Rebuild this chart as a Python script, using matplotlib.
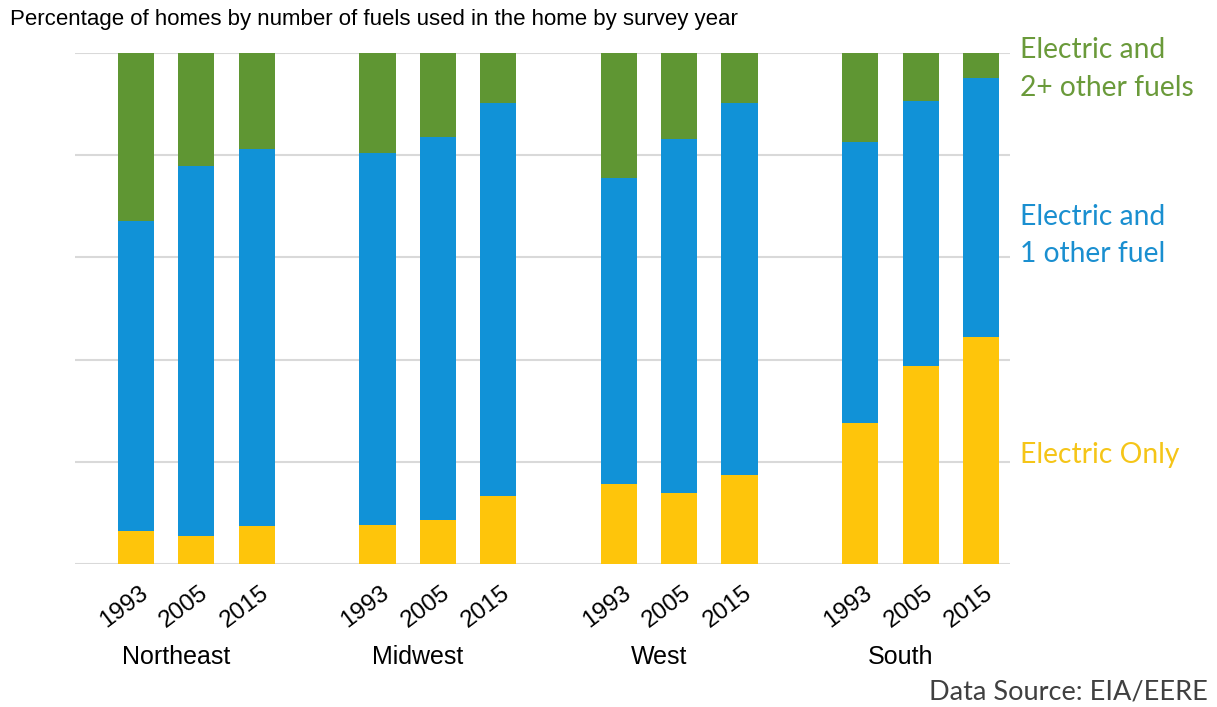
import matplotlib.pyplot as plt
from matplotlib import transforms

# Percent of homes
regions = ["Northeast", "Midwest", "West", "South"]
years = ["1993", "2005", "2015"]
electric_only = [6.5, 5.5, 7.4, 7.6, 8.6, 13.3, 15.7, 13.9, 17.4, 27.6, 38.7, 44.4]
electric_1_other = [60.6, 72.4, 73.8, 72.8, 75.0, 76.9, 59.8, 69.3, 72.8, 55.0, 51.9, 50.7]
electric_2_other = [32.9, 22.1, 18.8, 19.6, 16.4, 9.8, 24.5, 16.8, 9.8, 17.4, 9.4, 4.9]

YELLOW = "#fec50b"
BLUE = "#1192d7"
GREEN = "#5f9633"

fig = plt.figure(figsize=(12.17, 7.07), dpi=100)
ax = fig.add_axes([75 / 1217, 1 - 564 / 707, (1010 - 75) / 1217, (564 - 53) / 707])

xs = [g * 4 + j for g in range(len(regions)) for j in range(len(years))]
w = 0.6
bottom2 = [a + b for a, b in zip(electric_only, electric_1_other)]
ax.bar(xs, electric_only, width=w, color=YELLOW, zorder=2)
ax.bar(xs, electric_1_other, width=w, bottom=electric_only, color=BLUE, zorder=2)
ax.bar(xs, electric_2_other, width=w, bottom=bottom2, color=GREEN, zorder=2)

ax.set_xlim(-1.01, 14.48)
ax.set_ylim(0, 100)
ax.set_yticks([0, 20, 40, 60, 80, 100])
ax.yaxis.grid(True, color="#d9d9d9", lw=1.5, zorder=0)
ax.tick_params(axis="y", length=0, labelleft=False)
for s in ax.spines.values():
    s.set_visible(False)

ax.set_xticks(xs)
ax.set_xticklabels(years * len(regions), rotation=37, ha="right", va="top",
                   rotation_mode="anchor", fontsize=17.5, family="Liberation Sans")
ax.tick_params(axis="x", length=0, pad=13)
off = transforms.ScaledTranslation(2 / 72, 0, fig.dpi_scale_trans)
for lab in ax.get_xticklabels():
    lab.set_transform(lab.get_transform() + off)

tr = transforms.blended_transform_factory(ax.transData, ax.transAxes)
for g, name in enumerate(regions):
    ax.text(g * 4 + 1 - 0.33, -0.182, name, transform=tr, ha="center", va="center",
            fontsize=18, family="Liberation Sans")

fig.text(10 / 1217, 1 - 20 / 707, "Percentage of homes by number of fuels used in the home by survey year",
         ha="left", va="center", fontsize=16, family="Liberation Sans")

lfont = dict(fontsize=20.3, family="Lato", ha="left", va="center")
fig.text(1020 / 1217, 1 - 50 / 707, "Electric and", color="#6a9a3a", **lfont)
fig.text(1020 / 1217, 1 - 88 / 707, "2+ other fuels", color="#6a9a3a", **lfont)
fig.text(1020 / 1217, 1 - 217 / 707, "Electric and", color="#1a8fd0", **lfont)
fig.text(1020 / 1217, 1 - 254 / 707, "1 other fuel", color="#1a8fd0", **lfont)
fig.text(1020 / 1217, 1 - 455 / 707, "Electric Only", color="#f5c518", **lfont)

fig.text(1208 / 1217, 1 - 692 / 707, "Data Source: EIA/EERE", color="#404040",
         fontsize=19.5, family="Lato", ha="right", va="center")

fig.savefig("out.png", dpi=100)
